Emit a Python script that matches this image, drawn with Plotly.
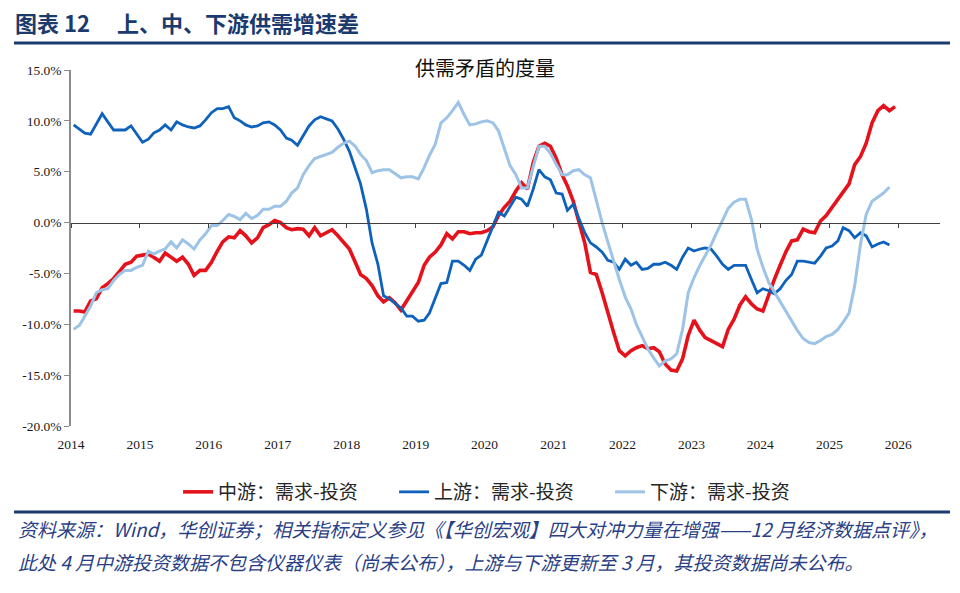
import pandas as pd
import plotly.graph_objects as go

# ---------------- data (monthly, Jan 2014 onward, %) ----------------
mid_stream = [  # 中游：需求-投资
    -8.7, -8.7, -8.8, -7.7, -7.5, -6.4, -6.0, -5.5, -4.8, -4.1, -3.9, -3.3,
    -3.2, -3.1, -3.4, -3.8, -3.0, -3.4, -3.8, -3.4, -4.1, -5.2, -4.7, -4.7,
    -3.9, -2.8, -1.9, -1.4, -1.5, -0.8, -1.3, -2.0, -1.5, -0.5, -0.2, 0.2,
    0.0, -0.5, -0.7, -0.6, -0.65, -1.3, -0.5, -1.3, -1.0, -0.7, -1.3, -2.0,
    -2.6, -3.9, -5.1, -5.5, -6.2, -7.2, -7.8, -7.4, -7.9, -8.6, -7.7, -6.7,
    -5.9, -4.2, -3.4, -2.9, -2.2, -1.1, -1.6, -0.9, -0.9, -1.1, -1.0, -1.0,
    -0.8, -0.4, 0.7, 1.5, 2.1, 3.1, 3.9, 3.3, 5.9, 7.5, 7.8, 7.5,
    6.3, 4.7, 3.6, 2.1, 0.2, -2.0, -4.9, -5.1, -6.9, -8.9, -10.8, -12.6,
    -13.1, -12.6, -12.3, -12.1, -12.4, -12.3, -12.7, -13.9, -14.5, -14.6, -13.4, -11.1,
    -9.6, -10.6, -11.3, -11.6, -11.9, -12.2, -10.5, -9.5, -8.1, -7.3, -8.0, -8.5,
    -8.7, -7.0, -5.6, -4.2, -2.9, -1.8, -1.7, -0.65, -0.9, -1.0, 0.15, 0.7,
    1.5, 2.3, 3.1, 3.8, 5.7, 6.5, 7.8, 9.8, 11.0, 11.5, 11.0, 11.4,
]
up_stream = [  # 上游：需求-投资
    9.6, 9.2, 8.8, 8.7, 9.7, 10.7, 9.9, 9.1, 9.1, 9.1, 9.5, 8.7,
    7.9, 8.2, 8.8, 9.1, 9.6, 9.1, 9.9, 9.6, 9.4, 9.3, 9.5, 10.1,
    10.8, 11.2, 11.2, 11.4, 10.3, 10.0, 9.6, 9.4, 9.5, 9.8, 9.9, 9.6,
    9.1, 8.3, 8.1, 7.6, 8.6, 9.5, 10.1, 10.4, 10.2, 10.0, 9.2, 8.2,
    7.0, 5.4, 3.8, 1.3, -2.0, -4.1, -7.2, -7.5, -8.0, -8.4, -9.2, -9.2,
    -9.7, -9.6, -8.9, -7.5, -6.0, -5.9, -3.8, -3.8, -4.2, -4.7, -3.6, -3.2,
    -1.8, -0.5, 1.0, 0.65, 1.5, 2.5, 2.3, 1.6, 3.3, 5.2, 4.5, 4.2,
    2.9, 2.8, 1.2, 1.8, 0.4, -1.0, -2.0, -2.4, -2.9, -3.7, -3.9, -4.6,
    -3.6, -4.2, -3.9, -4.6, -4.5, -4.1, -4.1, -3.9, -4.2, -4.6, -3.4, -2.5,
    -2.8, -2.6, -2.5, -2.6, -3.3, -4.1, -4.6, -4.2, -4.2, -4.2, -5.6, -6.9,
    -6.5, -6.7, -7.0, -6.5, -5.7, -5.1, -3.8, -3.8, -3.9, -4.0, -3.3, -2.5,
    -2.3, -1.8, -0.5, -0.8, -1.5, -1.0, -1.3, -2.4, -2.1, -1.9, -2.2,
]
down_stream = [  # 下游：需求-投资
    -10.5, -10.1, -9.2, -8.2, -6.9, -6.6, -6.5, -5.7, -5.1, -4.7, -4.7, -4.4,
    -4.2, -2.8, -3.1, -2.8, -2.6, -1.9, -2.5, -1.7, -2.1, -2.6, -1.7, -1.1,
    -0.3, -0.3, 0.2, 0.8, 0.6, 0.3, 0.9, 0.4, 0.7, 1.3, 1.3, 1.6,
    1.6, 2.1, 2.9, 3.4, 4.7, 5.6, 6.3, 6.5, 6.7, 6.9, 7.4, 7.8,
    8.0, 7.5, 6.7, 6.1, 4.9, 5.1, 5.2, 5.2, 4.8, 4.4, 4.5, 4.5,
    4.3, 5.4, 6.6, 7.7, 9.8, 10.3, 11.0, 11.8, 10.6, 9.6, 9.7, 9.9,
    10.0, 9.8, 9.0, 7.2, 5.6, 4.7, 3.4, 3.4, 5.4, 7.5, 7.5, 6.8,
    5.7, 4.7, 4.7, 5.1, 5.2, 4.7, 4.4, 2.1, 0.0, -1.9, -3.9, -5.6,
    -7.3, -8.5, -10.0, -11.3, -12.4, -13.3, -14.1, -13.6, -13.4, -12.9, -10.5, -6.9,
    -5.4, -4.2, -3.3, -2.2, -1.0, 0.15, 1.4, 2.0, 2.3, 2.3, 0.3, -2.6,
    -4.4, -5.9, -6.8, -7.7, -8.7, -9.6, -10.6, -11.4, -11.8, -11.9, -11.6, -11.2,
    -11.0, -10.5, -9.8, -8.9, -6.2, -2.1, 0.8, 2.1, 2.5, 2.9, 3.5,
]
months = pd.date_range("2014-01-01", periods=len(mid_stream), freq="MS") + pd.Timedelta(days=14)

series_names = ["中游：需求-投资", "上游：需求-投资", "下游：需求-投资"]
year_ticks = [f"{y}-01-01" for y in range(2014, 2027)]
year_labels = [str(y) for y in range(2014, 2027)]
y_ticks = [-20, -15, -10, -5, 0, 5, 10, 15]
y_labels = ["-20.0%", "-15.0%", "-10.0%", "-5.0%", "0.0%", "5.0%", "10.0%", "15.0%"]

# ---------------- figure ----------------
W, H = 960, 593
L, R, T, B = 71, 20, 70, 167
pw, ph = W - L - R, H - T - B


def px(x):
    return (x - L) / pw


def py(y):
    return (H - B - y) / ph


fig = go.Figure()
fig.add_trace(go.Scatter(x=months, y=mid_stream, name=series_names[0], mode="lines",
                         line=dict(color="#E5121B", width=3.6)))
fig.add_trace(go.Scatter(x=months[:len(up_stream)], y=up_stream, name=series_names[1], mode="lines",
                         line=dict(color="#0F62BC", width=2.8)))
fig.add_trace(go.Scatter(x=months[:len(down_stream)], y=down_stream, name=series_names[2], mode="lines",
                         line=dict(color="#9DC3E6", width=3.0)))
# carrier (draws nothing) so that the label axis x2 is rendered
fig.add_trace(go.Scatter(x=months, y=mid_stream, xaxis="x2", yaxis="y", mode="none",
                         showlegend=False, hoverinfo="skip"))

x_range = ["2014-01-01", "2026-08-10"]
y_min, y_max = -20, 15
serif = "Liberation Serif, Times New Roman, serif"
cjk = "Noto Sans CJK SC, sans-serif"

fig.update_layout(
    width=W, height=H,
    margin=dict(l=L, r=R, t=T, b=B),
    paper_bgcolor="white", plot_bgcolor="white",
    showlegend=True,
    legend=dict(orientation="h", xref="container", yref="container",
                x=0.523, xanchor="center", y=(H - 492) / H, yanchor="middle",
                font=dict(family=cjk, size=19, color="#262626"),
                itemwidth=30, entrywidth=171, bgcolor="rgba(0,0,0,0)"),
    xaxis=dict(type="date", range=x_range, anchor="free",
               position=(0 - y_min) / (y_max - y_min),
               showline=True, linecolor="#404040", linewidth=1.2,
               ticks="outside", ticklen=4, tickcolor="#404040", tickwidth=1,
               tickvals=year_ticks, showticklabels=False,
               showgrid=False, zeroline=False),
    xaxis2=dict(type="date", range=x_range, overlaying="x", anchor="y", side="bottom",
                showline=False, showgrid=False, zeroline=False,
                tickvals=year_ticks, ticktext=year_labels,
                ticks="outside", ticklen=6, tickcolor="rgba(0,0,0,0)",
                tickfont=dict(family=serif, size=13.5, color="#1a1a1a")),
    yaxis=dict(range=[y_min, y_max], showline=True, linecolor="#8c8c8c", linewidth=1.5,
               ticks="outside", ticklen=5, tickcolor="#8c8c8c", tickwidth=1.2,
               tickvals=y_ticks, ticktext=y_labels,
               tickfont=dict(family=serif, size=13.5, color="#1a1a1a"),
               showgrid=False, zeroline=False),
)

# header
fig.add_annotation(xref="paper", yref="paper", x=px(13), y=py(22), xanchor="left", yanchor="middle",
                   text="<b>图表 12\u3000 上、中、下游供需增速差</b>", showarrow=False,
                   font=dict(family=cjk, size=22, color="#1B3A6E"))
fig.add_shape(type="line", xref="paper", yref="paper", x0=px(14), x1=px(950), y0=py(43), y1=py(43),
              line=dict(color="#1B3A6E", width=3))
# chart title
fig.add_annotation(xref="paper", yref="paper", x=px(485), y=py(67), xanchor="center", yanchor="middle",
                   text="供需矛盾的度量", showarrow=False,
                   font=dict(family=cjk, size=20, color="#111111"))
# footer
fig.add_shape(type="line", xref="paper", yref="paper", x0=px(14), x1=px(950), y0=py(512), y1=py(512),
              line=dict(color="#1B3A6E", width=3))
fig.add_annotation(xref="paper", yref="paper", x=px(16), y=py(528), xanchor="left", yanchor="middle",
                   text="<i>资料来源：Wind，华创证券；相关指标定义参见《【华创宏观】四大对冲力量在增强——12 月经济数据点评》，</i>",
                   showarrow=False, font=dict(family=cjk, size=19, color="#2A3F85"))
fig.add_annotation(xref="paper", yref="paper", x=px(16), y=py(561), xanchor="left", yanchor="middle",
                   text="<i>此处 4 月中游投资数据不包含仪器仪表（尚未公布），上游与下游更新至 3 月，其投资数据尚未公布。</i>",
                   showarrow=False, font=dict(family=cjk, size=19, color="#2A3F85"))

fig.write_html("out.html")
